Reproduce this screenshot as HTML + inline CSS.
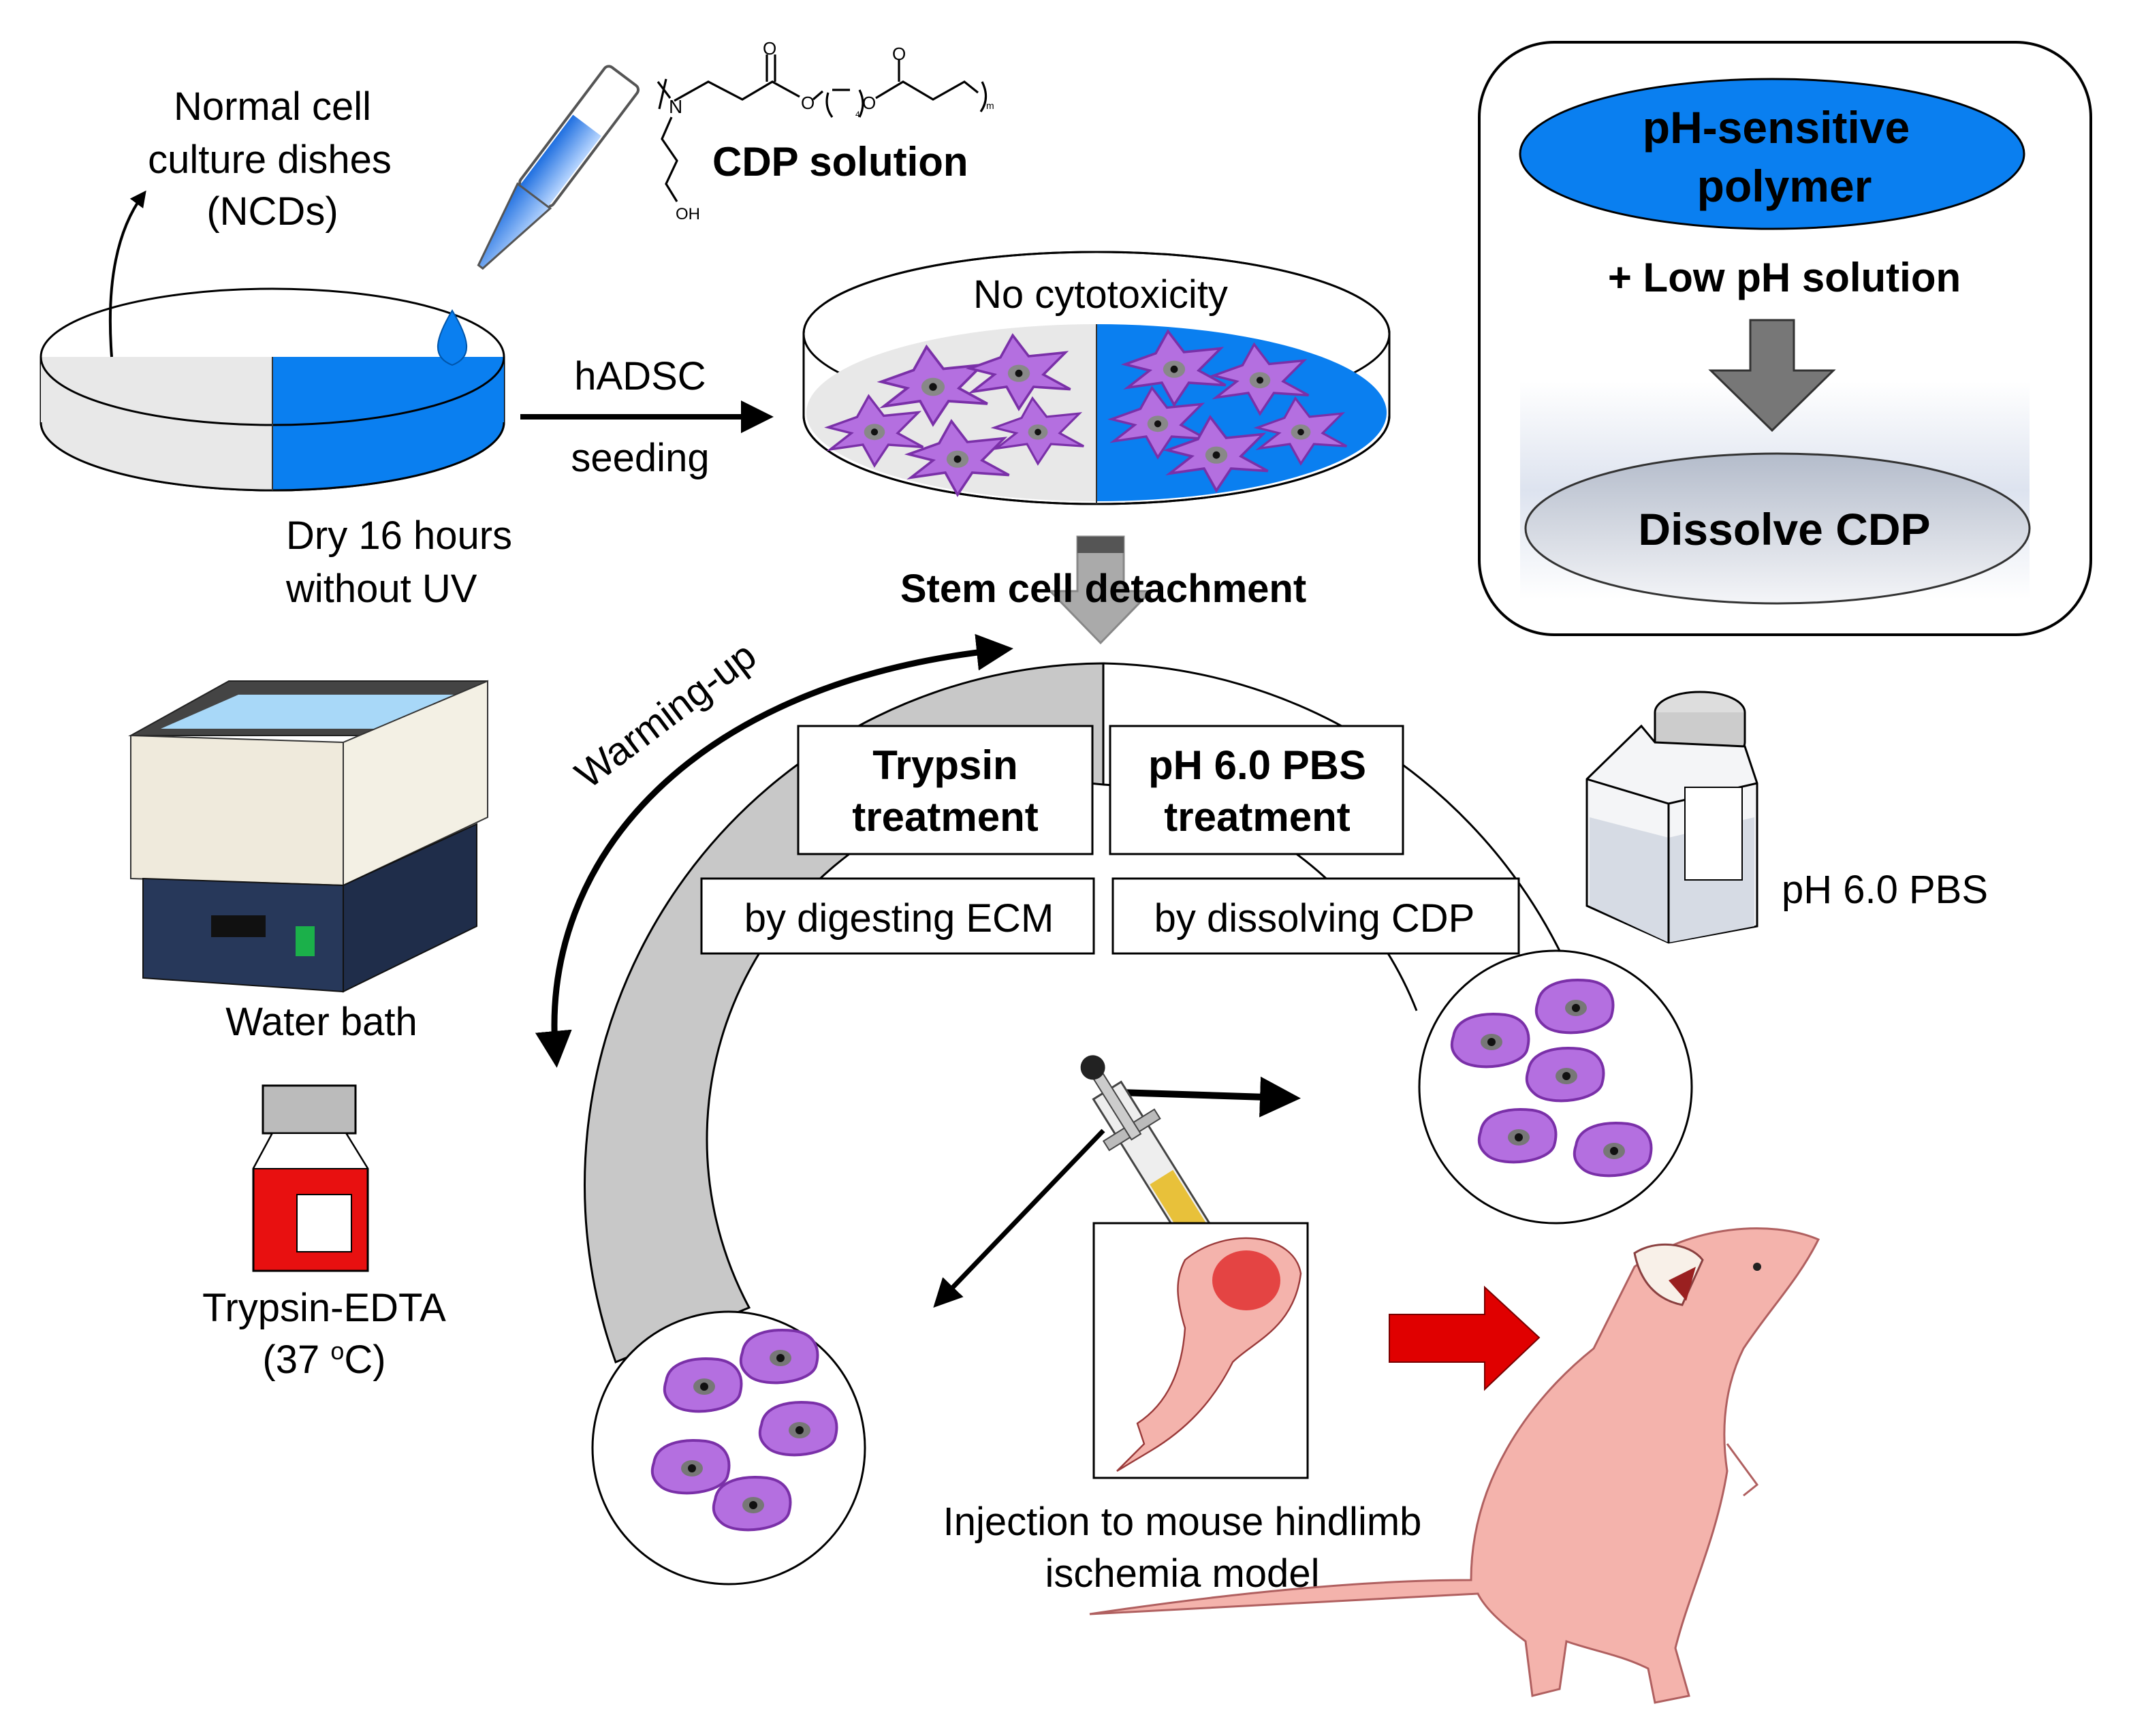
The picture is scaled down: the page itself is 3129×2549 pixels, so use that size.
<!DOCTYPE html>
<html><head><meta charset="utf-8"><style>
html,body{margin:0;padding:0;background:#fff}
svg{display:block}
text{font-family:"Liberation Sans",Arial,sans-serif;fill:#000}
</style></head><body>
<svg width="3129" height="2549" viewBox="0 0 1564.5 1274.5" xmlns="http://www.w3.org/2000/svg">
<defs>
<marker id="ah" markerWidth="6" markerHeight="6" refX="4" refY="3" orient="auto-start-reverse" markerUnits="strokeWidth"><path d="M0,0 L6,3 L0,6 z" fill="#000"/></marker>
<linearGradient id="band" x1="0" y1="0" x2="0" y2="1"><stop offset="0" stop-color="#fff"/><stop offset="0.5" stop-color="#dde3ef"/><stop offset="1" stop-color="#fff"/></linearGradient>
<linearGradient id="dis" x1="0" y1="0" x2="0" y2="1"><stop offset="0" stop-color="#b4bccb"/><stop offset="1" stop-color="#f4f5f8"/></linearGradient>
<linearGradient id="pip" x1="0" y1="0" x2="1" y2="0"><stop offset="0" stop-color="#1f6fe0"/><stop offset="1" stop-color="#b8d6ff"/></linearGradient>
<clipPath id="floor"><ellipse cx="805" cy="303" rx="213" ry="65"/></clipPath>
<g id="cell"><path d="M-40,-5 L-15,-14 L-5,-32 L8,-15 L38,-18 L20,0 L42,12 L12,10 L0,28 L-10,10 L-38,14 L-20,0 z" fill="#b46fe0" stroke="#7a30a8" stroke-width="2"/><ellipse cx="0" cy="-1" rx="9" ry="7" fill="#888"/><circle cx="0" cy="-1" r="3" fill="#111"/></g>
<g id="rc"><path d="M-28,-4 C-26,-18 -8,-22 10,-20 C24,-18 30,-8 26,6 C22,18 -10,22 -22,14 C-30,8 -30,2 -28,-4z" fill="#b46fe0" stroke="#7a30a8" stroke-width="2"/><ellipse cx="0" cy="0" rx="8" ry="6" fill="#777"/><circle cx="0" cy="0" r="3" fill="#111"/></g>
</defs>

<!-- top-left dish -->
<path d="M30,262 L30,310 A170,50 0 0 0 370,310 L370,262" fill="#fff" stroke="#000" stroke-width="1.5"/>
<path d="M200,262 L200,360 A170,50 0 0 1 30,310 L30,262 z" fill="#e8e8e8"/>
<path d="M200,262 L200,360 A170,50 0 0 0 370,310 L370,262 z" fill="#0a7ff0"/>
<ellipse cx="200" cy="262" rx="170" ry="50" fill="none" stroke="#000" stroke-width="1.5"/>
<path d="M30,310 A170,50 0 0 0 370,310" fill="none" stroke="#000" stroke-width="1.5"/>
<line x1="200" y1="262" x2="200" y2="360" stroke="#333" stroke-width="1"/>
<path d="M82,262 C78,210 85,170 105,143" fill="none" stroke="#000" stroke-width="2" marker-end="url(#ah)"/>
<text x="200" y="88" font-size="29" text-anchor="middle">Normal cell</text>
<text x="198" y="127" font-size="29" text-anchor="middle">culture dishes</text>
<text x="200" y="165" font-size="29" text-anchor="middle">(NCDs)</text>
<text x="210" y="403" font-size="29">Dry 16 hours</text>
<text x="210" y="442" font-size="29">without UV</text>
<!-- pipette -->
<g transform="rotate(37 410 120)">
<rect x="395" y="40" width="30" height="110" rx="4" fill="#fff" stroke="#555" stroke-width="2"/>
<rect x="397" y="85" width="26" height="65" fill="url(#pip)"/>
<path d="M395,150 L425,150 L412,215 L408,215 z" fill="url(#pip)" stroke="#555" stroke-width="1.5"/>
</g>
<path d="M332,228 C320,248 316,262 332,268 C348,262 344,248 332,228z" fill="#0a7ff0" stroke="#0055aa" stroke-width="1"/>
<!-- chemical structure -->
<g fill="none" stroke="#000" stroke-width="1.6">
<path d="M483,60 L492,72 M489,58 L484,80 M495,74 L520,60 L545,73 L567,60 L587,71 M563,60 L563,40 M569,60 L569,40 M597,73 L604,67"/>
<path d="M608,68 Q605,78 611,86 M611,66 L624,66 M631,66 Q636,76 631,86 M643,72 L663,60 L685,73 L708,60 L718,68 M660,60 L660,44"/>
<path d="M721,60 Q727,72 720,82 M493,86 L486,102 L497,118 L489,135 L497,148"/>
</g>
<text x="491" y="83" font-size="14">N</text>
<text x="560" y="40" font-size="13">O</text>
<text x="588" y="80" font-size="13">O</text>
<text x="633" y="80" font-size="13">O</text>
<text x="655" y="44" font-size="13">O</text>
<text x="628" y="86" font-size="6">4</text>
<text x="724" y="80" font-size="7">m</text>
<text x="496" y="161" font-size="12">OH</text>
<text x="523" y="129" font-size="30" font-weight="bold">CDP solution</text>

<!-- hADSC arrow -->
<line x1="382" y1="306" x2="560" y2="306" stroke="#000" stroke-width="4" marker-end="url(#ah)"/>
<text x="470" y="286" font-size="29" text-anchor="middle">hADSC</text>
<text x="470" y="346" font-size="29" text-anchor="middle">seeding</text>

<!-- right dish -->
<path d="M590,245 L590,305 A215,65 0 0 0 1020,305 L1020,245" fill="#fff" stroke="#000" stroke-width="1.5"/>
<ellipse cx="805" cy="245" rx="215" ry="60" fill="#fff" stroke="#000" stroke-width="1.5"/>
<g clip-path="url(#floor)">
<rect x="590" y="230" width="215" height="145" fill="#e8e8e8"/>
<rect x="805" y="230" width="215" height="145" fill="#0a7ff0"/>
</g>
<path d="M590,245 A215,60 0 0 1 1020,245" fill="none" stroke="#000" stroke-width="1.5"/>
<path d="M590,305 A215,65 0 0 0 1020,305" fill="none" stroke="#000" stroke-width="1.5"/>
<line x1="805" y1="238" x2="805" y2="370" stroke="#333"/>
<text x="808" y="226" font-size="29" text-anchor="middle">No cytotoxicity</text>
<use href="#cell" transform="translate(685,285) scale(0.95)"/>
<use href="#cell" transform="translate(748,275) scale(0.9)"/>
<use href="#cell" transform="translate(642,318) scale(0.85)"/>
<use href="#cell" transform="translate(703,338) scale(0.9)"/>
<use href="#cell" transform="translate(762,318) scale(0.8)"/>
<use href="#cell" transform="translate(862,272) scale(0.9)"/>
<use href="#cell" transform="translate(925,280) scale(0.85)"/>
<use href="#cell" transform="translate(850,312) scale(0.85)"/>
<use href="#cell" transform="translate(893,335) scale(0.9)"/>
<use href="#cell" transform="translate(955,318) scale(0.8)"/>

<!-- top-right box -->
<rect x="1086" y="31" width="449" height="435" rx="55" fill="#fff" stroke="#000" stroke-width="2"/>
<ellipse cx="1301" cy="113" rx="185" ry="55" fill="#0a7ff0" stroke="#000" stroke-width="1.5"/>
<text x="1304" y="105" font-size="33" font-weight="bold" text-anchor="middle">pH-sensitive</text>
<text x="1310" y="148" font-size="33" font-weight="bold" text-anchor="middle">polymer</text>
<text x="1310" y="214" font-size="30" font-weight="bold" text-anchor="middle">+ Low pH solution</text>
<rect x="1116" y="280" width="374" height="160" fill="url(#band)"/>
<path d="M1285,235 L1317,235 L1317,272 L1346,272 L1301,316 L1256,272 L1285,272 z" fill="#777" stroke="#333" stroke-width="1.5"/>
<ellipse cx="1305" cy="388" rx="185" ry="55" fill="url(#dis)" stroke="#333" stroke-width="1.5"/>
<text x="1310" y="400" font-size="33" font-weight="bold" text-anchor="middle">Dissolve  CDP</text>

<!-- central ring -->
<path d="M810,487 A383,383 0 0 0 452,1000 L550,960 A262,262 0 0 1 810,576 z" fill="#c8c8c8" stroke="#000" stroke-width="1.5"/>
<path d="M810,487 A383,383 0 0 1 1146,700" fill="none" stroke="#000" stroke-width="1.5"/>
<path d="M810,576 A262,262 0 0 1 1040,742" fill="none" stroke="#000" stroke-width="1.5"/>
<line x1="810" y1="487" x2="810" y2="576" stroke="#000" stroke-width="1.2"/>
<!-- down arrow -->
<path d="M791,394 L825,394 L825,434 L845,434 L808,472 L771,434 L791,434 z" fill="#aaa" stroke="#888" stroke-width="1.5"/>
<rect x="791" y="394" width="34" height="12" fill="#555"/>
<text x="810" y="442" font-size="29" font-weight="bold" text-anchor="middle">Stem cell detachment</text>

<rect x="586" y="533" width="216" height="94" fill="#fff" stroke="#000" stroke-width="1.5"/>
<text x="694" y="572" font-size="30" font-weight="bold" text-anchor="middle">Trypsin</text>
<text x="694" y="610" font-size="30" font-weight="bold" text-anchor="middle">treatment</text>
<rect x="815" y="533" width="215" height="94" fill="#fff" stroke="#000" stroke-width="1.5"/>
<text x="923" y="572" font-size="30" font-weight="bold" text-anchor="middle">pH 6.0 PBS</text>
<text x="923" y="610" font-size="30" font-weight="bold" text-anchor="middle">treatment</text>
<rect x="515" y="645" width="288" height="55" fill="#fff" stroke="#000" stroke-width="1.5"/>
<text x="660" y="684" font-size="29" text-anchor="middle">by digesting ECM</text>
<rect x="817" y="645" width="298" height="55" fill="#fff" stroke="#000" stroke-width="1.5"/>
<text x="965" y="684" font-size="29" text-anchor="middle">by dissolving CDP</text>

<!-- cell circles -->
<circle cx="1142" cy="798" r="100" fill="#fff" stroke="#000" stroke-width="1.5"/>
<use href="#rc" transform="translate(1095,765)"/><use href="#rc" transform="translate(1157,740)"/>
<use href="#rc" transform="translate(1150,790)"/><use href="#rc" transform="translate(1115,835)"/>
<use href="#rc" transform="translate(1185,845)"/>
<circle cx="535" cy="1063" r="100" fill="#fff" stroke="#000" stroke-width="1.5"/>
<use href="#rc" transform="translate(517,1018)"/><use href="#rc" transform="translate(573,997)"/>
<use href="#rc" transform="translate(587,1050)"/><use href="#rc" transform="translate(508,1078)"/>
<use href="#rc" transform="translate(553,1105)"/>

<!-- warming up -->
<path d="M408,775 C395,630 510,500 735,477" fill="none" stroke="#000" stroke-width="4.5" marker-start="url(#ah)" marker-end="url(#ah)"/>
<text x="0" y="0" font-size="29" transform="translate(432,580) rotate(-37)">Warming-up</text>

<!-- water bath -->
<path d="M96,540 L168,500 L358,500 L352,540 z" fill="#444" stroke="#222"/>
<path d="M118,535 L175,510 L340,510 L335,535 z" fill="#a8d8f8"/>
<path d="M96,540 L252,545 L252,650 L96,645 z" fill="#efeadc" stroke="#333"/>
<path d="M252,545 L358,500 L358,600 L252,650 z" fill="#f3f0e4" stroke="#333"/>
<path d="M105,645 L252,650 L252,728 L105,718 z" fill="#27385a" stroke="#111"/>
<path d="M252,650 L350,605 L350,680 L252,728 z" fill="#1f2d4a" stroke="#111"/>
<rect x="155" y="672" width="40" height="16" fill="#111"/>
<rect x="217" y="680" width="14" height="22" fill="#1bb04a"/>
<text x="236" y="760" font-size="29" text-anchor="middle">Water bath</text>

<!-- trypsin bottle -->
<rect x="193" y="797" width="68" height="35" fill="#bbb" stroke="#000" stroke-width="1.5"/>
<path d="M200,832 L254,832 L270,858 L270,933 L186,933 L186,858 z" fill="#e81010" stroke="#000" stroke-width="1.5"/>
<path d="M200,832 L254,832 L270,858 L186,858 z" fill="#fff" stroke="#000"/>
<rect x="218" y="877" width="40" height="42" fill="#fff" stroke="#000"/>
<text x="238" y="970" font-size="29" text-anchor="middle">Trypsin-EDTA</text>
<text x="238" y="1008" font-size="29" text-anchor="middle">(37 <tspan font-size="18" dy="-10">o</tspan><tspan dy="10">C)</tspan></text>

<!-- PBS bottle -->
<ellipse cx="1248" cy="523" rx="33" ry="15" fill="#ddd" stroke="#000" stroke-width="1.5"/>
<path d="M1215,523 L1215,545 A33,15 0 0 0 1281,545 L1281,523" fill="#ccc" stroke="#000" stroke-width="1.5"/>
<path d="M1165,572 L1205,533 L1215,545 L1281,548 L1290,575 L1290,680 L1225,692 L1165,665 z" fill="#f4f5f7" stroke="#000" stroke-width="1.5"/>
<path d="M1167,600 L1225,615 L1288,600 L1288,680 L1225,692 L1167,665 z" fill="#d6dbe4"/>
<path d="M1165,572 L1225,590 L1290,575 M1225,590 L1225,692" fill="none" stroke="#000" stroke-width="1.5"/>
<rect x="1237" y="578" width="42" height="68" fill="#fff" stroke="#000"/>
<text x="1308" y="663" font-size="29">pH 6.0 PBS</text>

<!-- syringe and arrows -->
<line x1="822" y1="802" x2="945" y2="806" stroke="#000" stroke-width="5" marker-end="url(#ah)"/>
<line x1="810" y1="830" x2="690" y2="955" stroke="#000" stroke-width="3.5" marker-end="url(#ah)"/>
<g transform="rotate(-32 850 860)">
<rect x="838" y="790" width="24" height="150" fill="#eee" stroke="#444" stroke-width="1.5"/>
<rect x="840" y="865" width="20" height="73" fill="#e8c13a"/>
<rect x="828" y="820" width="44" height="8" fill="#bbb" stroke="#444"/>
<rect x="846" y="770" width="8" height="60" fill="#ccc" stroke="#444"/>
<circle cx="850" cy="770" r="9" fill="#222"/>
<line x1="850" y1="940" x2="850" y2="990" stroke="#666" stroke-width="2"/>
</g>
<rect x="803" y="898" width="157" height="187" fill="#fff" stroke="#000" stroke-width="1.5"/>
<path d="M870,925 C900,900 950,905 955,935 C950,975 920,985 905,1000 C890,1030 870,1050 845,1065 L820,1080 L840,1060 L835,1045 C858,1030 868,1005 870,975 C864,955 862,940 870,925z" fill="#f4b3ac" stroke="#9a3a3a" stroke-width="1.2"/>
<ellipse cx="915" cy="940" rx="25" ry="22" fill="#e03030" opacity="0.85"/>
<text x="868" y="1127" font-size="29" text-anchor="middle">Injection to mouse hindlimb</text>
<text x="868" y="1165" font-size="29" text-anchor="middle">ischemia model</text>

<!-- red arrow -->
<path d="M1020,965 L1090,965 L1090,945 L1130,982 L1090,1020 L1090,1000 L1020,1000 z" fill="#e00000" stroke="#700" stroke-width="1"/>

<!-- mouse -->
<path d="M1200,930 C1240,900 1300,895 1335,910 C1320,940 1300,960 1280,990 C1270,1010 1262,1040 1268,1080 C1260,1130 1240,1170 1230,1210 L1240,1245 L1215,1250 L1210,1225 C1190,1215 1170,1212 1150,1205 L1145,1240 L1125,1245 L1120,1205 C1100,1190 1090,1180 1085,1170 C1000,1175 900,1180 800,1185 C900,1170 1000,1160 1080,1160 C1080,1090 1120,1030 1170,990 C1180,970 1190,950 1200,930z" fill="#f4b3ac" stroke="#b06060" stroke-width="1.5"/>
<path d="M1200,920 C1215,910 1240,912 1250,925 L1235,958 C1220,955 1205,945 1200,920z" fill="#f8f0e8" stroke="#8a4040" stroke-width="1.5"/>
<path d="M1225,940 L1245,930 L1238,955z" fill="#9a2020"/>
<circle cx="1290" cy="930" r="3" fill="#222"/>
<path d="M1268,1060 L1290,1090 L1280,1098" fill="none" stroke="#b06060" stroke-width="1.5"/>
</svg>
</body></html>
